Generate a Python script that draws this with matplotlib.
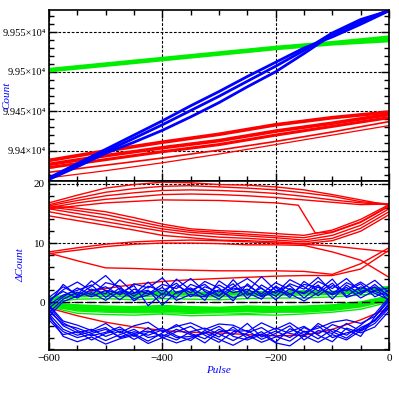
import numpy as np
import matplotlib
matplotlib.use("Agg")
import matplotlib.pyplot as plt
from matplotlib.ticker import MultipleLocator

plt.rcParams['font.family'] = ['Liberation Serif', 'DejaVu Serif']

# ---- top panel: raw counts vs pulse ----
pulse_top = [-600, -500, -400, -300, -200, -100, 0]
green_top = [
    [99503, 99510, 99517, 99524, 99531, 99537, 99544],
    [99502, 99509, 99516, 99523, 99530, 99536, 99542],
    [99501, 99508, 99515, 99522, 99529, 99535, 99539],
]
red_top = [
    [99388, 99400, 99411, 99421, 99433, 99442, 99449],
    [99383, 99394, 99404, 99413, 99425, 99435, 99446],
    [99379, 99389, 99399, 99408, 99420, 99431, 99442],
    [99373, 99382, 99391, 99401, 99412, 99424, 99437],
    [99366, 99375, 99385, 99396, 99408, 99420, 99432],
]
red_top_lw = [2.6, 2.6, 2.2, 1.2, 0.9]

pulse_blue_top = [-600, -550, -500, -450, -400, -350, -300, -250, -200, -150, -100, -50, 0]
blue_top = [
    [99366, 99384, 99402, 99420, 99438, 99457, 99475, 99494, 99512, 99530, 99544, 99560, 99577],
    [99364, 99380, 99397, 99411, 99426, 99443, 99461, 99481, 99500, 99523, 99547, 99563, 99578],
    [99365, 99381, 99399, 99416, 99433, 99451, 99469, 99488, 99507, 99527, 99549, 99566, 99577],
]

# ---- bottom panel: delta counts vs pulse ----
pulse_bot = [-600, -550, -500, -450, -400, -350, -300, -250, -200, -150, -100, -50, 0]
red_bot = [
    [16.8, 18.1, 19.3, 19.9, 20.3, 20.2, 19.9, 19.8, 19.5, 19.0, 18.2, 17.3, 16.4],
    [16.5, 17.6, 18.6, 19.2, 19.6, 19.7, 19.5, 19.3, 19.0, 18.5, 17.9, 17.0, 16.6],
    [16.3, 17.2, 18.0, 18.5, 18.9, 19.0, 18.9, 18.7, 18.4, 17.9, 17.3, 16.8, 16.5],
    [16.0, 16.8, 17.4, 17.8, 18.2, 18.3, 18.2, 18.0, 17.7, 17.3, 16.9, 16.5, 16.6],
    [16.3, 15.9, 15.3, 14.3, 13.2, 12.4, 12.1, 11.9, 11.6, 11.3, 12.2, 14.0, 16.5],
    [16.1, 15.5, 14.8, 13.8, 12.8, 12.1, 11.8, 11.5, 11.2, 10.9, 11.8, 13.5, 16.2],
    [15.8, 15.0, 14.2, 13.3, 12.4, 11.8, 11.5, 11.2, 10.9, 10.5, 11.3, 13.0, 15.8],
    [15.3, 14.4, 13.6, 12.8, 12.0, 11.4, 11.0, 10.8, 10.5, 10.2, 10.8, 12.5, 15.3],
    [14.6, 13.8, 13.0, 12.2, 11.3, 10.9, 10.5, 10.4, 10.2, 9.9, 10.4, 12.0, 14.8],
    [8.5, 9.2, 9.8, 10.2, 10.4, 10.5, 10.4, 10.2, 10.0, 9.8, 9.5, 9.0, 8.5],
    [8.2, 8.8, 9.4, 9.8, 10.0, 10.0, 9.9, 9.7, 9.7, 9.6, 8.5, 7.1, 4.2],
    [8.3, 7.0, 5.8, 5.7, 5.5, 5.4, 5.3, 5.3, 5.3, 5.2, 4.7, 6.5, 9.2],
    [0.5, 1.4, 2.3, 3.0, 3.5, 3.8, 4.0, 4.2, 4.4, 4.5, 4.5, 5.6, 8.8],
    [-1.0, -2.3, -3.4, -4.2, -4.8, -5.1, -5.2, -5.5, -5.7, -5.6, -4.6, -3.0, -1.0],
]
# the one line that drops from the upper arc to the lower arc
pulse_red_drop = [-600, -500, -400, -300, -200, -160, -130, -100, -50, 0]
red_drop = [15.8, 16.8, 17.3, 17.2, 16.8, 16.4, 11.7, 11.9, 13.6, 16.3]

green_bot = [
    [0.5, 1.3, 1.5, 1.4, 1.6, 1.5, 1.4, 1.6, 1.5, 1.7, 1.6, 1.9, 2.4],
    [0.3, 0.9, 1.0, 0.9, 1.1, 1.0, 0.9, 1.1, 1.2, 1.2, 1.3, 1.6, 2.0],
    [0.0, 0.5, 0.6, 0.4, 0.6, 0.5, 0.4, 0.6, 0.7, 0.7, 0.9, 1.2, 1.6],
    [-0.3, -0.7, -0.9, -1.0, -0.8, -1.0, -1.1, -0.9, -1.0, -0.9, -0.7, -0.2, 0.8],
    [-0.5, -1.1, -1.3, -1.4, -1.3, -1.5, -1.4, -1.3, -1.4, -1.3, -1.0, -0.5, 0.5],
    [-0.6, -1.5, -1.7, -1.8, -1.8, -1.9, -1.8, -1.9, -1.7, -1.7, -1.4, -0.8, 0.3],
    [-0.8, -1.9, -2.1, -2.2, -2.0, -2.3, -2.2, -2.1, -2.2, -2.0, -1.7, -1.2, 0.0],
]
green_bot_lw = [3.0, 1.0, 1.0, 3.0, 3.0, 1.0, 1.0]

pulse_blue = [-600, -575, -550, -525, -500, -475, -450, -425, -400, -375, -350, -325, -300,
              -275, -250, -225, -200, -175, -150, -125, -100, -75, -50, -25, 0]
blue_bot = [
    [0.2, 2.1, 3.4, 1.9, 2.6, 1.2, 3.1, 2.4, 4.1, 1.5, 2.2, 0.3, 3.6, 2.0, 2.8, 1.4, 3.3, 2.1, 1.6, 3.5, 2.3, 4.0, 1.8, 2.5, 1.2],
    [-0.5, 1.2, 2.0, 2.9, 0.8, 2.4, 1.0, 2.7, 1.9, 3.2, 0.9, 2.6, 1.7, 3.1, 0.6, 2.9, 1.5, 3.8, 2.6, 1.1, 2.8, 1.9, 3.1, 0.9, 2.0],
    [0.8, 2.6, 1.3, 3.6, 1.9, 0.4, 2.2, 1.4, 3.0, 2.3, 4.0, 1.8, 0.5, 2.4, 1.8, 4.3, 2.0, 1.2, 3.0, 2.5, 1.4, 3.3, 2.2, 3.7, 1.6],
    [-1.0, 0.9, 2.4, 1.2, 3.3, 2.7, 0.2, 1.9, 0.6, 2.8, 1.6, 3.5, 2.4, 0.2, 3.1, 1.1, 2.5, 0.8, 3.5, 1.9, 3.9, 1.0, 2.6, 1.5, 0.4],
    [0.4, 1.8, 0.7, 2.2, 1.4, 3.8, 1.6, 2.0, -0.5, 1.7, 2.4, 1.1, 2.9, 1.6, 2.2, 0.9, 1.9, 2.8, 0.7, 2.6, 1.2, 2.5, 0.7, 2.0, 2.4],
    [-1.8, 0.5, 1.7, 0.9, 2.0, 1.5, 2.8, -0.6, 1.5, 0.8, 3.0, 2.1, 1.0, 3.8, 1.2, 2.4, 0.4, 2.3, 1.4, 2.9, 0.5, 2.9, 1.3, 3.0, 0.9],
    [-0.2, 3.0, 1.1, 2.7, 4.5, 2.1, 1.4, 3.4, 1.2, 3.9, 2.0, 3.0, 1.1, 2.6, 4.0, 2.3, 1.0, 3.1, 2.2, 4.2, 1.7, 2.1, 3.4, 1.8, 1.0],
    [-2.4, 0.1, 1.0, 1.6, 0.3, 1.9, 0.6, 1.2, 2.5, 0.3, 1.3, 0.9, 2.1, 0.7, 1.6, 0.5, 2.7, 1.4, 0.2, 1.6, 3.2, 0.8, 1.6, 2.6, 0.2],
    [-1.2, -4.0, -5.2, -4.6, -5.8, -4.9, -6.3, -5.1, -4.4, -5.7, -6.5, -4.8, -5.9, -4.2, -6.1, -5.0, -6.8, -4.5, -5.5, -4.0, -6.0, -5.2, -4.6, -3.0, -0.5],
    [-2.0, -4.6, -5.6, -5.0, -4.3, -6.0, -5.4, -6.6, -5.2, -3.8, -5.3, -6.2, -4.6, -5.5, -3.6, -5.9, -4.9, -6.0, -4.3, -5.4, -3.8, -4.6, -5.8, -2.5, 0.2],
    [-0.8, -3.5, -4.8, -5.7, -5.1, -4.2, -5.8, -4.3, -6.1, -5.0, -4.1, -5.6, -6.8, -5.0, -4.8, -6.3, -5.3, -4.0, -6.4, -4.8, -5.3, -3.6, -4.9, -3.6, -1.0],
    [-2.6, -5.0, -6.0, -5.4, -6.5, -5.5, -4.6, -6.0, -5.5, -6.4, -5.0, -4.4, -5.4, -6.5, -5.2, -4.3, -5.8, -6.6, -4.9, -6.2, -4.6, -5.6, -3.9, -2.0, 0.8],
    [-1.5, -3.8, -4.4, -5.3, -4.6, -5.9, -5.0, -5.6, -4.7, -6.0, -5.8, -5.2, -4.1, -5.8, -6.4, -5.5, -4.4, -5.3, -5.8, -3.6, -5.0, -6.1, -4.3, -3.2, -0.2],
    [-3.0, -5.5, -5.0, -6.4, -5.3, -4.6, -5.3, -4.9, -5.8, -4.6, -5.5, -6.9, -5.0, -4.7, -5.6, -6.8, -5.9, -5.0, -4.1, -5.6, -6.7, -4.4, -5.2, -4.2, -1.5],
    [-0.5, -3.2, -3.9, -4.8, -3.6, -5.2, -4.0, -3.4, -5.0, -4.1, -3.5, -4.6, -3.7, -3.9, -5.0, -3.5, -4.6, -3.5, -5.1, -4.4, -3.4, -3.0, -3.6, -2.4, 0.5],
    [-2.2, -5.8, -6.7, -5.9, -7.1, -6.2, -5.6, -7.0, -6.0, -6.9, -6.1, -5.2, -6.3, -7.3, -6.0, -5.4, -6.9, -7.4, -5.7, -6.8, -5.5, -6.4, -4.8, -3.1, -0.8],
]

top_ticks = [99400, 99450, 99500, 99550]
top_labels = ['9.94\u00d710\u2074', '9.945\u00d710\u2074', '9.95\u00d710\u2074', '9.955\u00d710\u2074']

fig = plt.figure(figsize=(3.99, 3.99), dpi=100)
ax1 = fig.add_axes([49/399, 1-181/399, 340/399, 171/399])
ax2 = fig.add_axes([49/399, 1-350/399, 340/399, 169/399])

grid_style = dict(color='black', linestyle=(0, (2.5, 1.5)), linewidth=0.8)

for r, lw in zip(red_top, red_top_lw):
    ax1.plot(pulse_top, r, color='red', lw=lw)
for g in green_top:
    ax1.plot(pulse_top, g, color='#00ee00', lw=2.2)
for b in blue_top:
    ax1.plot(pulse_blue_top, b, color='blue', lw=2.0)

for r in red_bot:
    ax2.plot(pulse_bot, r, color='red', lw=1.0)
ax2.plot(pulse_red_drop, red_drop, color='red', lw=1.0)
for g, lw in zip(green_bot, green_bot_lw):
    ax2.plot(pulse_bot, g, color='#00ee00', lw=lw)
ax2.axhline(0, color='black', lw=1.0, linestyle=(0, (6, 3)))
for b in blue_bot:
    ax2.plot(pulse_blue, b, color='blue', lw=0.9)

ax1.set_xlim(-600, 0)
ax2.set_xlim(-600, 0)
ax1.set_ylim(99362, 99578)
ax2.set_ylim(-8.1, 20.5)

ax1.set_yticks(top_ticks)
ax1.set_yticklabels(top_labels)
ax1.yaxis.set_minor_locator(MultipleLocator(10))
ax1.xaxis.set_major_locator(MultipleLocator(200))
ax1.xaxis.set_minor_locator(MultipleLocator(50))
ax1.tick_params(axis='x', labelbottom=False)

ax2.xaxis.set_major_locator(MultipleLocator(200))
ax2.xaxis.set_minor_locator(MultipleLocator(50))
ax2.yaxis.set_major_locator(MultipleLocator(10))
ax2.yaxis.set_minor_locator(MultipleLocator(2))
ax2.set_xticks([-600, -400, -200, 0])
ax2.set_xticklabels(['\u2212600', '\u2212400', '\u2212200', '0'])

for ax in (ax1, ax2):
    ax.set_axisbelow(True)
    ax.grid(True, which='major', **grid_style)
    ax.tick_params(which='both', direction='in', top=True, right=True,
                   labelsize=8, pad=3, width=1.0, colors='black')
    ax.tick_params(which='major', length=6)
    ax.tick_params(which='minor', length=3.5)
    for s in ax.spines.values():
        s.set_linewidth(1.2)
ax1.tick_params(axis='y', labelsize=7.5, pad=2)

ax1.set_ylabel('Count', color='blue', style='italic', fontsize=8)
ax1.yaxis.set_label_coords(-0.112, 0.5)
ax2.set_ylabel('\u0394Count', color='blue', style='italic', fontsize=8)
ax2.yaxis.set_label_coords(-0.07, 0.5)
ax2.set_xlabel('Pulse', color='blue', style='italic', fontsize=8)
ax2.xaxis.set_label_coords(0.5, -0.095)

fig.savefig('out.png', dpi=100)
